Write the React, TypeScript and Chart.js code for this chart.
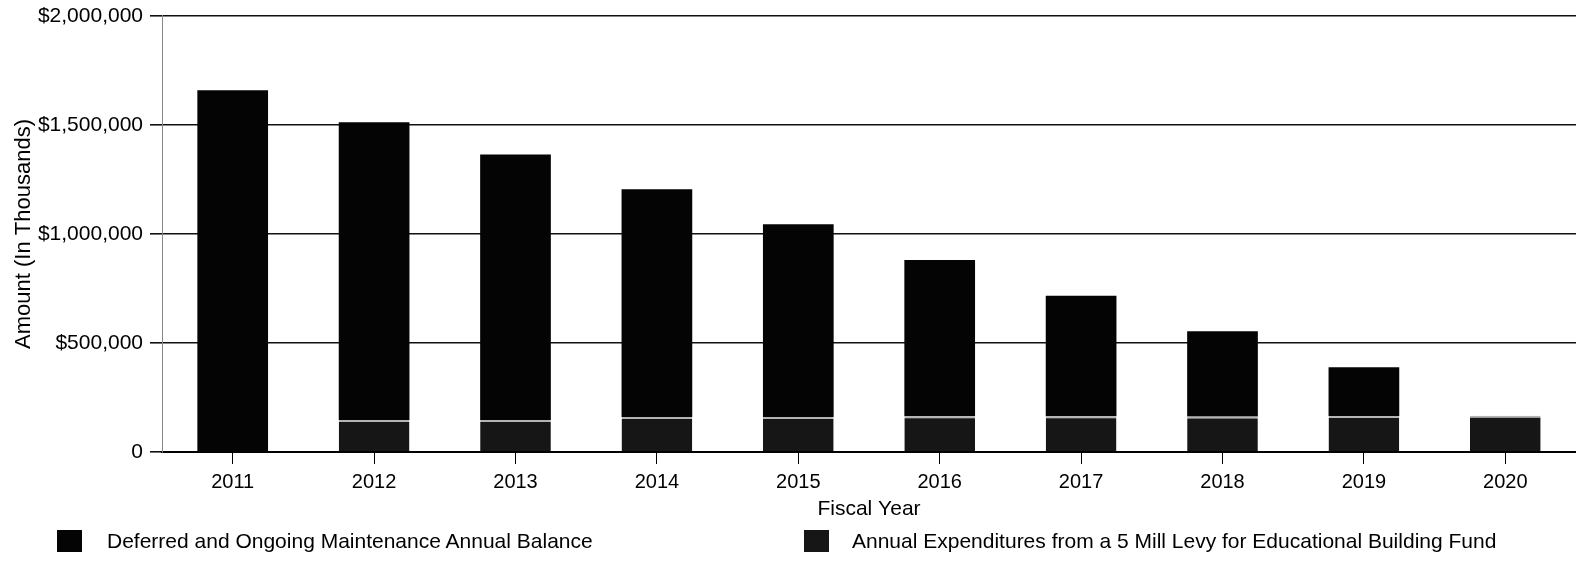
import React, { useEffect, useRef } from "react";
import { Chart, registerables } from "chart.js";

Chart.register(...registerables);

const years = ["2011", "2012", "2013", "2014", "2015", "2016", "2017", "2018", "2019", "2020"];
const expenditures = [null, 147000, 147000, 160000, 160000, 164000, 164000, 163000, 165000, 166000];
const deferredBalance = [1659000, 1365000, 1218000, 1045000, 885000, 717000, 553000, 391000, 224000, null];
const yTicks = [0, 500000, 1000000, 1500000, 2000000];
const legendLabels = [
  "Deferred and Ongoing Maintenance Annual Balance",
  "Annual Expenditures from a 5 Mill Levy for Educational Building Fund",
];

const FONT = "'Liberation Sans', Arial, sans-serif";

export default function App() {
  const ref = useRef<HTMLCanvasElement | null>(null);

  useEffect(() => {
    document.body.style.margin = "0";
    const canvas = ref.current;
    if (!canvas) return;
    const chart = new Chart(canvas, {
      type: "bar",
      data: {
        labels: years,
        datasets: [
          {
            label: legendLabels[1],
            data: expenditures,
            backgroundColor: "#161616",
            borderColor: "#b4b4b4",
            borderWidth: { top: 2, left: 0, right: 0, bottom: 0 },
            borderSkipped: false,
            categoryPercentage: 0.5,
            barPercentage: 1,
          },
          {
            label: legendLabels[0],
            data: deferredBalance,
            backgroundColor: "#040404",
            borderWidth: 0,
            categoryPercentage: 0.5,
            barPercentage: 1,
          },
        ],
      },
      options: {
        responsive: false,
        animation: false,
        maintainAspectRatio: false,
        layout: { padding: { left: 0, right: 0, top: 10, bottom: 57 } },
        plugins: {
          legend: { display: false },
          tooltip: { enabled: false },
        },
        scales: {
          x: {
            stacked: true,
            offset: true,
            grid: {
              display: true,
              drawOnChartArea: false,
              drawTicks: true,
              tickLength: 12,
              offset: false,
              color: "#000",
              lineWidth: 1,
            },
            border: { display: true, color: "#000", width: 2 },
            ticks: {
              color: "#000",
              font: { family: FONT, size: 20 },
              padding: 6,
              maxRotation: 0,
              autoSkip: false,
            },
            title: {
              display: true,
              text: "Fiscal Year",
              color: "#000",
              font: { family: FONT, size: 21 },
              padding: { top: 0, bottom: 5 },
            },
            afterFit: (s: any) => {
              s.height = 75;
            },
          },
          y: {
            stacked: true,
            min: 0,
            max: 2000000,
            afterBuildTicks: (s: any) => {
              s.ticks = yTicks.map((v) => ({ value: v }));
            },
            ticks: {
              color: "#000",
              font: { family: FONT, size: 21, lineHeight: 0.85 },
              padding: 7,
              callback: (v: any) => (Number(v) === 0 ? "0" : "$" + Number(v).toLocaleString("en-US")),
            },
            grid: {
              color: "#111",
              lineWidth: 1.6,
              drawTicks: true,
              tickLength: 12,
            },
            border: { display: true, color: "#888", width: 1 },
            title: {
              display: true,
              text: "Amount (In Thousands)",
              color: "#000",
              font: { family: FONT, size: 22 },
              padding: { top: 11, bottom: 0 },
            },
            afterFit: (s: any) => {
              s.width = 162;
            },
          },
        },
      },
    });
    return () => chart.destroy();
  }, []);

  const textStyle: React.CSSProperties = {
    position: "absolute",
    fontFamily: FONT,
    fontSize: 21,
    color: "#000",
    lineHeight: "24px",
    whiteSpace: "nowrap",
  };
  const boxStyle: React.CSSProperties = {
    position: "absolute",
    width: 25,
    height: 22,
  };

  return (
    <div style={{ position: "relative", width: 1576, height: 584 }}>
      <canvas ref={ref} width={1576} height={584} style={{ display: "block" }} />
      <div style={{ ...boxStyle, left: 57, top: 530, background: "#040404" }} />
      <div style={{ ...textStyle, left: 107, top: 529 }}>{legendLabels[0]}</div>
      <div style={{ ...boxStyle, left: 804, top: 530, background: "#161616" }} />
      <div style={{ ...textStyle, left: 852, top: 529 }}>{legendLabels[1]}</div>
    </div>
  );
}
